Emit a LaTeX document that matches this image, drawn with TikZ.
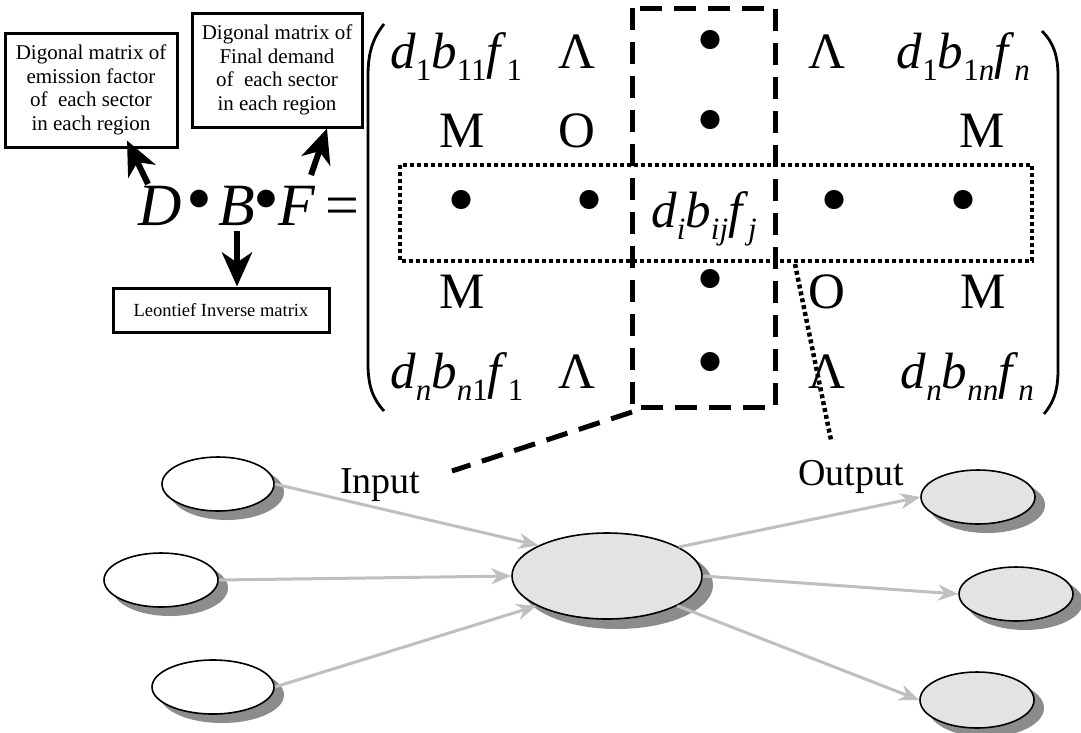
\documentclass[tikz,border=0pt]{standalone}
\usepackage{fontspec}
\setmainfont{Liberation Serif}
\usetikzlibrary{arrows.meta,calc,shapes.geometric}

% lowered subscript for the matrix entries
\newcommand\lw[1]{\raisebox{-12pt}{\fontsize{31}{31}\selectfont #1}}
\newcommand\iv[1]{\textit{#1}}

\begin{document}
\begin{tikzpicture}[x=1pt,y=-1pt,
  labelbox/.style={draw, line width=3pt, align=center, inner sep=0pt,
    font=\fontsize{21}{23.5}\selectfont},
  bigarrow/.style={line width=6pt, -{Stealth[length=34pt,width=30pt,inset=10pt]}},
  eq/.style={inner sep=0pt, anchor=base, font=\fontsize{60}{60}\selectfont},
  eqdot/.style={inner sep=0pt, anchor=center, font=\fontsize{74}{74}\selectfont},
  cell/.style={inner sep=0pt, anchor=base, font=\fontsize{51}{51}\selectfont},
  dotc/.style={inner sep=0pt, anchor=center, font=\fontsize{80}{80}\selectfont},
  colframe/.style={line width=5pt, dash pattern=on 22pt off 12pt},
  rowframe/.style={line width=4.5pt, dash pattern=on 4pt off 3pt},
  paren/.style={line width=2.8pt},
  sector/.style={ellipse, inner sep=0pt, draw, line width=1.6pt, fill=white},
  grey sector/.style={sector, fill=gray!22},
  castshadow/.style={fill=black!45},
  flow/.style={draw=gray!50, line width=3pt,
    -{Stealth[length=20pt,width=16pt,fill=gray!28]}},
  caption/.style={inner sep=0pt, anchor=base west, font=\fontsize{38}{38}\selectfont}]

\useasboundingbox (0,0) rectangle (1081,732);

% ---- explanatory boxes ----
\node[labelbox, minimum width=172pt, minimum height=114pt] (emis) at (91,90)
  {Digonal matrix of\\emission factor\\of\enspace each sector\\in each region};
\node[labelbox, minimum width=170pt, minimum height=114pt] (fdem) at (277,70)
  {Digonal matrix of\\Final demand\\of\enspace each sector\\in each region};
\node[labelbox, minimum width=216pt, minimum height=44pt,
  font=\fontsize{18.5}{20}\selectfont] (leon) at (221,310) {Leontief Inverse matrix};

% ---- D.B.F = ----
\node[eq] (D) at (160,225) {\iv{D}};
\node[eqdot] (o1) at (199,207) {•};
\node[eq] (B) at (237,225) {\iv{B}};
\node[eqdot] (o2) at (266,207) {•};
\node[eq] (F) at (297,225) {\iv{F}};
\node[eq] (eqs) at (342,225) {=};

\coordinate (dArr) at (148,184);
\coordinate (fArr) at (311,175);
\draw[bigarrow] (dArr) -- ([xshift=36pt,yshift=8pt]emis.south);
\draw[bigarrow] (fArr) -- ([xshift=50pt,yshift=0pt]fdem.south);
\draw[bigarrow] ([yshift=-6pt]B.south) -- (B.south |- leon.north);

% ---- matrix brackets ----
\draw[paren] (384,24) .. controls (373,38) and (368,52) .. (368,76)
  -- (368,364) .. controls (368,386) and (373,399) .. (384,411);
\draw[paren] (1042,31) .. controls (1053,42) and (1058,55) .. (1058,76)
  -- (1058,370) .. controls (1058,392) and (1053,403) .. (1044,414);

% ---- matrix entries ----
\node[cell, anchor=base west] (m11) at (390,68) {\iv{d}\lw{1}\iv{b}\lw{11}\iv{f}\lw{1}};
\node[cell] (m12) at (577,68) {Λ};
\node[dotc] (m13) at (710,48) {•};
\node[cell] (m14) at (827,68) {Λ};
\node[cell, anchor=base east] (m15) at (1030,68) {\iv{d}\lw{1}\iv{b}\lw{1\iv{n}}\iv{f}\lw{\iv{n}}};

\node[cell] (m21) at (462,147) {M};
\node[cell] (m22) at (577,147) {O};
\node[dotc] (m23) at (710,128) {•};
\node[cell] (m25) at (982,147) {M};

\node[dotc] (m31) at (461,208) {•};
\node[dotc] (m32) at (589,208) {•};
\node[cell] (m33) at (704,227) {\iv{d}\lw{\iv{i}}\iv{b}\lw{\iv{ij}}\iv{f}\lw{\iv{j}}};
\node[dotc] (m34) at (834,208) {•};
\node[dotc] (m35) at (963,208) {•};

\node[cell] (m41) at (462,308) {M};
\node[dotc] (m43) at (710,287) {•};
\node[cell] (m44) at (827,308) {O};
\node[cell] (m45) at (983,308) {M};

\node[cell, anchor=base west] (m51) at (390,388) {\iv{d}\lw{\iv{n}}\iv{b}\lw{\iv{n}1}\iv{f}\lw{1}};
\node[cell] (m52) at (577,388) {Λ};
\node[dotc] (m53) at (710,370) {•};
\node[cell] (m54) at (827,388) {Λ};
\node[cell, anchor=base east] (m55) at (1034,388) {\iv{d}\lw{\iv{n}}\iv{b}\lw{\iv{nn}}\iv{f}\lw{\iv{n}}};

% ---- column and row frames ----
\coordinate (colA) at (632,8);
\coordinate (colB) at (775,407);
\coordinate (rowA) at (400,165);
\coordinate (rowB) at (1032,261);
\draw[colframe] (colA) rectangle (colB);
\draw[rowframe] (rowA) rectangle (rowB);

% ---- input / output network ----
\node[caption] (inp) at (340,493) {Input};
\node[caption] (outp) at (798,485) {Output};

\coordinate (colCorner) at (632,412);
\coordinate (inEnd) at (452,471);
\coordinate (rowFoot) at (795,264);
\coordinate (outEnd) at (831,440);
\draw[colframe] (colCorner) -- (inEnd);
\draw[rowframe] (rowFoot) -- (outEnd);

% offset shadows, drawn before the sectors
\fill[castshadow] (227,492) ellipse [x radius=57pt, y radius=28pt];
\fill[castshadow] (170,588) ellipse [x radius=58pt, y radius=28pt];
\fill[castshadow] (222,695) ellipse [x radius=62pt, y radius=28pt];
\fill[castshadow] (617,585) ellipse [x radius=96pt, y radius=44pt];
\fill[castshadow] (987,505) ellipse [x radius=58pt, y radius=28pt];
\fill[castshadow] (1025,602) ellipse [x radius=58pt, y radius=28pt];
\fill[castshadow] (986,708) ellipse [x radius=58pt, y radius=29pt];

\node[sector, minimum width=112pt, minimum height=54pt] (e1) at (218,484) {};
\node[sector, minimum width=114pt, minimum height=54pt] (e2) at (161,580) {};
\node[sector, minimum width=122pt, minimum height=54pt] (e3) at (213,687) {};
\node[grey sector, minimum width=190pt, minimum height=86pt] (hub) at (607,576) {};
\node[grey sector, minimum width=114pt, minimum height=54pt] (r1) at (978,497) {};
\node[grey sector, minimum width=114pt, minimum height=54pt] (r2) at (1016,594) {};
\node[grey sector, minimum width=114pt, minimum height=56pt] (r3) at (977,700) {};

\draw[flow] (e1.east) -- (hub.156);
\draw[flow] (e2.east) -- (hub.west);
\draw[flow] (e3.east) -- (hub.203);
\draw[flow] (hub.22) -- (r1.west);
\draw[flow] (hub.east) -- (r2.west);
\draw[flow] (hub.-23) -- (r3.west);

\end{tikzpicture}
\end{document}
